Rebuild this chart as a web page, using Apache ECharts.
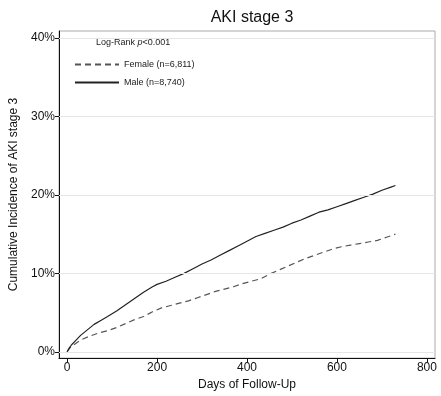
<!DOCTYPE html>
<html><head><meta charset="utf-8">
<script src="https://cdn.jsdelivr.net/npm/echarts@6/dist/echarts.min.js"></script>
<style>html,body{margin:0;padding:0;background:#fff}#c{width:441px;height:396px}</style>
</head><body><div id="c"></div>
<script>
var xTicks = [0, 200, 400, 600, 800];
var yTicks = [0, 10, 20, 30, 40];
var maleDays = [0,5,10,20,30,45,60,75,90,110,130,150,170,190,200,220,240,260,280,300,320,340,360,380,400,420,440,460,480,500,520,540,560,580,600,620,640,660,680,700,720,730];
var maleVals = [0,0.5,0.9,1.5,2.1,2.8,3.5,4.0,4.5,5.2,6.0,6.8,7.6,8.3,8.6,9.0,9.5,10.0,10.6,11.2,11.7,12.3,12.9,13.5,14.1,14.7,15.1,15.5,15.9,16.4,16.8,17.3,17.8,18.1,18.5,18.9,19.3,19.7,20.1,20.6,21.0,21.2];
var femaleDays = [0,5,10,20,30,50,70,90,110,130,150,170,190,210,230,250,270,290,310,330,350,370,390,410,430,450,470,490,510,530,550,570,590,610,630,650,670,690,710,730];
var femaleVals = [0,0.4,0.7,1.1,1.5,2.0,2.4,2.7,3.1,3.6,4.1,4.5,5.1,5.6,5.9,6.2,6.5,6.9,7.3,7.7,8.0,8.3,8.7,9.0,9.3,9.9,10.4,10.9,11.4,11.9,12.3,12.7,13.1,13.4,13.6,13.8,14.0,14.2,14.6,15.0];

function pairs(xs, ys){ return xs.map(function(x,i){return [x, ys[i]];}); }
var F = '"Liberation Sans", Arial, sans-serif';
var chart = echarts.init(document.getElementById('c'), null, {renderer:'canvas'});
chart.setOption({
  animation:false,
  backgroundColor:'#fff',
  title:{text:'AKI stage 3', left:247, top:5, textAlign:'center',
    textStyle:{fontFamily:F, fontSize:16, fontWeight:'normal', color:'#111'}},
  grid:{left:59, right:6, top:31, bottom:35, show:true, borderColor:'#aaa', borderWidth:1, backgroundColor:'transparent'},
  graphic:[{type:'text', left:96, top:38, style:{rich:{i:{fontStyle:'italic', fontFamily:F, fontSize:9, fill:'#222'}, n:{fontFamily:F, fontSize:9, fill:'#222'}}, text:'{n|Log-Rank }{i|p}{n|<0.001}'}}],
  legend:{orient:'vertical', left:69, top:55, itemWidth:44, itemHeight:10, itemGap:9,
    data:['Female (n=6,811)','Male (n=8,740)'],
    itemStyle:{color:'rgba(0,0,0,0)', borderWidth:0, opacity:0},
    textStyle:{fontFamily:F, fontSize:9, color:'#222'}},
  xAxis:{type:'value', min:-18, max:818, name:'Days of Follow-Up', nameLocation:'middle', nameGap:18,
    nameTextStyle:{fontFamily:F, fontSize:12, color:'#111'},
    axisLine:{onZero:false, lineStyle:{color:'#111', width:1}},
    axisTick:{customValues:xTicks, length:4, lineStyle:{color:'#111'}},
    axisLabel:{customValues:xTicks, fontFamily:F, fontSize:12, color:'#111', margin:4},
    splitLine:{show:false}},
  yAxis:{type:'value', min:-0.8, max:40.9, name:'Cumulative Incidence of AKI stage 3', nameLocation:'middle', nameGap:34,
    nameTextStyle:{fontFamily:F, fontSize:12, color:'#111'},
    axisLine:{show:true, onZero:false, lineStyle:{color:'#111', width:1}},
    axisTick:{show:true, customValues:yTicks, length:4, lineStyle:{color:'#111'}},
    axisLabel:{customValues:yTicks, fontFamily:F, fontSize:12, color:'#111', margin:4, formatter:function(v){return v+'%';}},
    splitLine:{show:false}},
  series:[
    {name:'Female (n=6,811)', type:'line', data:pairs(femaleDays, femaleVals), symbol:'none', z:3,
      lineStyle:{color:'#555', width:1.2, type:[6,4]}, itemStyle:{color:'#555'},
      markLine:{silent:true, symbol:'none', label:{show:false}, lineStyle:{color:'#e6e6e6', width:1, type:'solid'},
        data:yTicks.map(function(v){return {yAxis:v};})}},
    {name:'Male (n=8,740)', type:'line', data:pairs(maleDays, maleVals), symbol:'none', z:4,
      lineStyle:{color:'#222', width:1.2}, itemStyle:{color:'#222'}}
  ]
});
</script></body></html>
